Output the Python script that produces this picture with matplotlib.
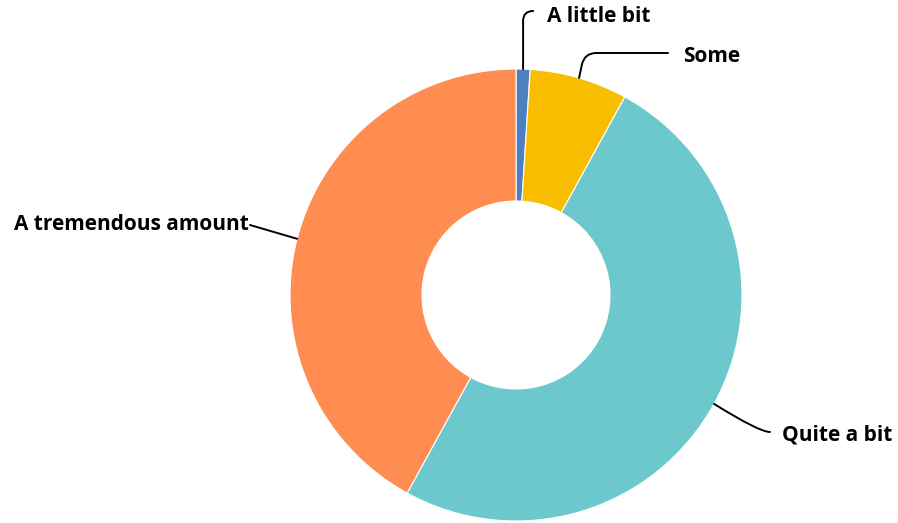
import numpy as np
import matplotlib.pyplot as plt

labels = ["A little bit", "Some", "Quite a bit", "A tremendous amount"]
values = [1, 7, 50, 42]
colors = ["#4e7fc0", "#f9bd00", "#6cc8cc", "#ff8c50"]

# label text positions in pixels (x, y from top), alignment, leader end point
text_pos = [(547, 17, "left"), (683, 57, "left"), (782, 435, "left"), (249, 225, "right")]
line_end = [(533, 11), (668, 53), (770, 432), (250, 225)]
conn = ["angle,angleA=0,angleB=90,rad=10", "angle,angleA=0,angleB=78,rad=12",
        "angle3,angleA=0,angleB=-32", "arc3,rad=0"]

W, H = 898, 523
cx, cy, R, r_in = 516, H - 295, 226, 94

fig = plt.figure(figsize=(W / 100, H / 100), dpi=100)
ax = fig.add_axes([0, 0, 1, 1])

wedges, _ = ax.pie(values, colors=colors, startangle=90, counterclock=False,
                   center=(cx, cy), radius=R,
                   wedgeprops=dict(width=R - r_in, edgecolor="white", linewidth=0.8))
ax.set_xlim(0, W)
ax.set_ylim(0, H)
ax.set_aspect("equal")
ax.axis("off")

for w, lab, (tx, ty, ha), (ex, ey), cs in zip(wedges, labels, text_pos, line_end, conn):
    ang = np.deg2rad((w.theta1 + w.theta2) / 2)
    px, py = cx + R * np.cos(ang), cy + R * np.sin(ang)
    ax.annotate("", xy=(px, py), xytext=(ex, H - ey),
                arrowprops=dict(arrowstyle="-", color="black", lw=1.4,
                                connectionstyle=cs, shrinkA=0, shrinkB=0))
    ax.text(tx, H - ty, lab, ha=ha, va="center", fontsize=15,
            fontweight="bold", family="Open Sans")

fig.savefig("out.png", dpi=100)
